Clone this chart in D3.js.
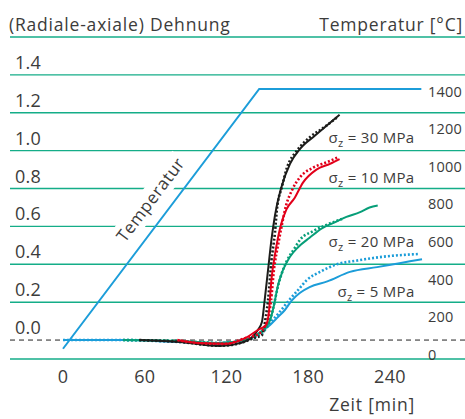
<!DOCTYPE html>
<html>
<head>
<meta charset="utf-8">
<script src="https://cdn.jsdelivr.net/npm/d3@7"></script>
<style>
  html, body { margin: 0; padding: 0; background: #fff; }
  svg { display: block; font-family: "Open Sans", "Noto Sans", sans-serif; }
</style>
</head>
<body>
<div id="chart"></div>
<script>
// Tick labels
var strainTicks = [0.0, 0.2, 0.4, 0.6, 0.8, 1.0, 1.2, 1.4];
var gridValues = [0.2, 0.4, 0.6, 0.8, 1.0, 1.2, 1.4, 1.6];
var tempTicks = [0, 200, 400, 600, 800, 1000, 1200, 1400];
var timeTicks = [0, 60, 120, 180, 240];

// Temperature program
var tempTime = [0, 144, 263];
var tempValue = [20, 1400, 1400];

// Strain curves (time in min, strain)
var s30SolidT = [56, 86, 115, 130, 139, 143, 146, 148, 150.5, 153, 155.6, 160, 166.6, 174, 185, 203];
var s30SolidE = [0, -0.01, -0.032, -0.016, 0.016, 0.053, 0.095, 0.21, 0.37, 0.53, 0.66, 0.80, 0.93, 1.01, 1.08, 1.19];
var s30DotT = [56, 86, 115, 130, 140, 146, 149, 150.5, 153, 155.6, 157, 160.7, 164.4, 171.7, 181, 191, 202];
var s30DotE = [0, -0.01, -0.03, -0.016, 0.01, 0.026, 0.13, 0.21, 0.42, 0.57, 0.69, 0.81, 0.91, 1.0, 1.07, 1.12, 1.18];

var s10SolidT = [84, 100, 119, 133.6, 143, 149, 151, 153, 156, 160, 164, 170, 176, 186, 196, 203];
var s10SolidE = [0, -0.016, -0.02, 0.01, 0.053, 0.08, 0.14, 0.32, 0.47, 0.61, 0.69, 0.75, 0.83, 0.90, 0.93, 0.955];
var s10DotT = [84, 100, 119, 133.6, 143, 150, 152.7, 154.8, 157.8, 160.7, 163.7, 168, 174, 183.5, 194, 202];
var s10DotE = [0, -0.016, -0.02, 0.01, 0.03, 0.105, 0.21, 0.37, 0.50, 0.61, 0.71, 0.79, 0.86, 0.91, 0.94, 0.965];

var s20SolidT = [44, 86, 115, 133.6, 142, 148, 152, 154.9, 157.8, 161.5, 166.6, 172.5, 181, 190, 199, 208, 218, 225, 231];
var s20SolidE = [0, -0.005, -0.016, 0, 0.026, 0.063, 0.105, 0.185, 0.29, 0.37, 0.44, 0.49, 0.54, 0.59, 0.62, 0.65, 0.675, 0.70, 0.71];
var s20DotT = [44, 86, 115, 133.6, 143, 150.5, 154, 157, 160, 164.4, 170, 174, 183.5, 194, 205];
var s20DotE = [0, -0.005, -0.016, 0, 0.026, 0.08, 0.16, 0.26, 0.34, 0.42, 0.485, 0.53, 0.575, 0.61, 0.64];

var s5SolidT = [0, 44, 86, 115, 133.6, 141, 146.8, 152, 157, 163, 168, 174, 181, 194, 210.6, 230.5, 247, 263.5];
var s5SolidE = [0, 0, -0.01, -0.016, 0, 0.02, 0.053, 0.08, 0.116, 0.16, 0.21, 0.25, 0.28, 0.31, 0.36, 0.385, 0.406, 0.427];
var s5DotT = [0, 44, 86, 115, 133.6, 141, 146, 152, 159, 166.6, 172.5, 179, 188.6, 201, 216, 235, 260.5];
var s5DotE = [0, 0, -0.01, -0.016, 0, 0.016, 0.037, 0.09, 0.148, 0.216, 0.264, 0.317, 0.36, 0.40, 0.42, 0.44, 0.454];

var stressLabels = ["30", "10", "20", "5"];

// Colours
var colors = {
    text: "#3c3c3b",
    grid: "#14ad88",
    black: "#1d1d1b",
    red: "#e2001a",
    green: "#079e78",
    blue: "#1c9dd9"
};

var width = 465, height = 419;

var svg = d3.select("#chart")
    .append("svg")
    .attr("width", width)
    .attr("height", height);

// Scales
var xScale = d3.scaleLinear().domain([0, 240]).range([63, 390]);
var yScale = d3.scaleLinear().domain([-0.1, 1.6]).range([359, 37]);
var tScale = d3.scaleLinear().domain([0, 1400]).range([352.5, 89]);

function zip(ts, es) {
    return ts.map(function (t, i) { return { t: t, e: es[i] }; });
}

// Horizontal grid lines
svg.append("g")
    .selectAll("line")
    .data(gridValues.concat([-0.1]))
    .enter()
    .append("line")
    .attr("x1", 10)
    .attr("x2", width)
    .attr("y1", function (d) { return yScale(d); })
    .attr("y2", function (d) { return yScale(d); })
    .attr("stroke", colors.grid)
    .attr("stroke-width", 1.4);

// Dashed zero line
svg.append("line")
    .attr("x1", 10)
    .attr("x2", width)
    .attr("y1", yScale(0))
    .attr("y2", yScale(0))
    .attr("stroke", "#222")
    .attr("stroke-width", 1)
    .attr("stroke-dasharray", "5,4");

// Left axis labels
svg.append("g")
    .selectAll("text")
    .data(strainTicks)
    .enter()
    .append("text")
    .attr("x", 15)
    .attr("y", function (d) { return yScale(d) - 6; })
    .attr("font-size", 18)
    .attr("letter-spacing", 0.3)
    .attr("fill", colors.text)
    .text(function (d) { return d.toFixed(1); });

// Right axis labels (temperature)
svg.append("g")
    .selectAll("text")
    .data(tempTicks)
    .enter()
    .append("text")
    .attr("x", 428)
    .attr("y", function (d) { return tScale(d) + 7.5; })
    .attr("font-size", 14.5)
    .attr("letter-spacing", 0.2)
    .attr("fill", colors.text)
    .text(function (d) { return d; });

// Bottom axis labels
svg.append("g")
    .selectAll("text")
    .data(timeTicks)
    .enter()
    .append("text")
    .attr("x", function (d) { return xScale(d); })
    .attr("y", 383)
    .attr("text-anchor", "middle")
    .attr("font-size", 18)
    .attr("letter-spacing", 0.3)
    .attr("fill", colors.text)
    .text(function (d) { return d; });

// Titles
svg.append("text")
    .attr("x", 9).attr("y", 31)
    .attr("font-size", 17.5)
    .attr("letter-spacing", 0.8)
    .attr("fill", colors.text)
    .text("(Radiale-axiale) Dehnung");

svg.append("text")
    .attr("x", 463).attr("y", 31)
    .attr("text-anchor", "end")
    .attr("font-size", 17.5)
    .attr("letter-spacing", 0.8)
    .attr("fill", colors.text)
    .text("Temperatur [°C]");

svg.append("text")
    .attr("x", 415).attr("y", 411)
    .attr("text-anchor", "end")
    .attr("font-size", 17.5)
    .attr("letter-spacing", 0.8)
    .attr("fill", colors.text)
    .text("Zeit [min]");

// Rotated "Temperatur" label along the heating ramp
var p0 = [xScale(tempTime[0]), tScale(tempValue[0])];
var p1 = [xScale(tempTime[1]), tScale(tempValue[1])];
var angle = Math.atan2(p1[1] - p0[1], p1[0] - p0[0]) * 180 / Math.PI;
var midT = 76;
var mid = [xScale(midT), tScale(tempValue[0] + (tempValue[1] - tempValue[0]) * midT / tempTime[1])];
var rad = angle * Math.PI / 180;
var off = 20;
var lx = mid[0] + off * Math.sin(rad);
var ly = mid[1] - off * Math.cos(rad);

var tempLabel = svg.append("g")
    .attr("transform", "translate(" + lx + "," + ly + ") rotate(" + angle + ")");
tempLabel.append("rect")
    .attr("x", -52).attr("y", -12)
    .attr("width", 104).attr("height", 24)
    .attr("fill", "#fff");
tempLabel.append("text")
    .attr("text-anchor", "middle")
    .attr("dy", "0.35em")
    .attr("font-size", 17)
    .attr("letter-spacing", 0.6)
    .attr("fill", colors.text)
    .text("Temperatur");

// Temperature line
var tempLine = d3.line()
    .x(function (d) { return xScale(d.t); })
    .y(function (d) { return tScale(d.e); });

svg.append("path")
    .datum(zip(tempTime, tempValue))
    .attr("d", tempLine)
    .attr("fill", "none")
    .attr("stroke", colors.blue)
    .attr("stroke-width", 2);

// Strain curves
var strainLine = d3.line()
    .curve(d3.curveMonotoneX)
    .x(function (d) { return xScale(d.t); })
    .y(function (d) { return yScale(d.e); });

var curves = [
    { t: s5SolidT, e: s5SolidE, c: colors.blue, dot: false },
    { t: s5DotT, e: s5DotE, c: colors.blue, dot: true },
    { t: s20SolidT, e: s20SolidE, c: colors.green, dot: false },
    { t: s20DotT, e: s20DotE, c: colors.green, dot: true },
    { t: s30SolidT, e: s30SolidE, c: colors.black, dot: false },
    { t: s30DotT, e: s30DotE, c: colors.black, dot: true },
    { t: s10SolidT, e: s10SolidE, c: colors.red, dot: false },
    { t: s10DotT, e: s10DotE, c: colors.red, dot: true }
];

svg.append("g")
    .selectAll("path")
    .data(curves)
    .enter()
    .append("path")
    .attr("d", function (d) { return strainLine(zip(d.t, d.e)); })
    .attr("fill", "none")
    .attr("stroke", function (d) { return d.c; })
    .attr("stroke-width", function (d) { return d.dot ? 2.6 : 2; })
    .attr("stroke-dasharray", function (d) { return d.dot ? "2,2" : null; });

// Stress annotations
var labelStrain = [1.04, 0.83, 0.49, 0.225];
var annot = svg.append("g")
    .selectAll("text")
    .data(stressLabels)
    .enter()
    .append("text")
    .attr("x", xScale(258))
    .attr("y", function (d, i) { return yScale(labelStrain[i]); })
    .attr("text-anchor", "end")
    .attr("font-size", 15)
    .attr("letter-spacing", 0.3)
    .attr("fill", colors.text);

annot.append("tspan").text("σ");
annot.append("tspan").attr("font-size", 11).attr("dy", 4).text("z");
annot.append("tspan").attr("dy", -4).text(function (d) { return " = " + d + " MPa"; });
</script>
</body>
</html>
